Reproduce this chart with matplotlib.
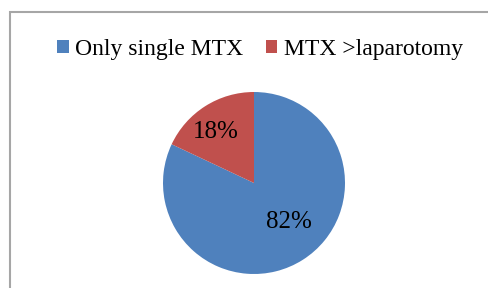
import matplotlib
matplotlib.use('Agg')
import matplotlib.pyplot as plt
from matplotlib.patches import Rectangle, Patch

labels = ['Only single MTX', 'MTX >laparotomy']
values = [82, 18]
colors = ['#4F81BD', '#C0504D']

plt.rcParams['font.family'] = ['Liberation Serif', 'DejaVu Serif']

W, H = 489, 288
fig = plt.figure(figsize=(W / 100, H / 100), dpi=100)

# chart frame (right and bottom run off the picture)
fig.patches.append(Rectangle((10 / W, -0.05), 1.0, (H - 12) / H + 0.05,
                             transform=fig.transFigure, fill=False,
                             edgecolor='#A6A6A6', linewidth=1.5))

r = 91
ax = fig.add_axes([(254 - r) / W, (H - 183 - r) / H, 2 * r / W, 2 * r / H])
wedges, texts, autotexts = ax.pie(values, colors=colors, startangle=90,
                                  counterclock=False, autopct='%d%%',
                                  pctdistance=0.6, radius=1,
                                  textprops={'fontsize': 18, 'color': 'black'})
ax.set_xlim(-1, 1)
ax.set_ylim(-1, 1)
ax.set_aspect('auto')
# excel-like label spots
autotexts[0].set_position((0.385, -0.43))
autotexts[1].set_position((-0.42, 0.56))

handles = [Patch(facecolor=c, edgecolor='none') for c in colors]
fig.legend(handles, labels, loc='center', bbox_to_anchor=(0.532, (H - 49) / H),
           ncol=2, frameon=False, fontsize=17, handlelength=0.48,
           handleheight=0.48, handletextpad=0.28, columnspacing=0.95)

fig.savefig('out.png', dpi=100)
